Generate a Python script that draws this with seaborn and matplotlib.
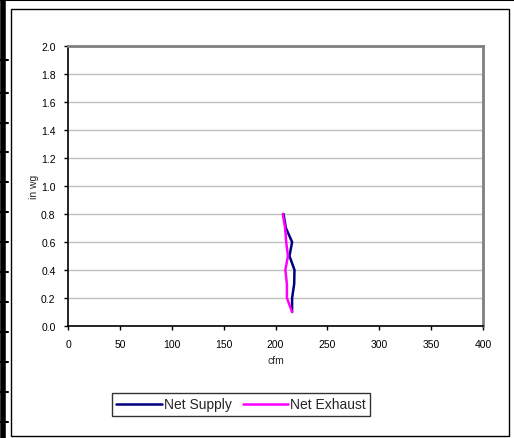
import pandas as pd
import matplotlib
matplotlib.use('Agg')
import matplotlib.pyplot as plt
import seaborn as sns
from matplotlib.lines import Line2D
from matplotlib.patches import Rectangle

# 数据
pressure = [0.8, 0.7, 0.6, 0.5, 0.4, 0.3, 0.2, 0.1]
supply_cfm = [207.7, 210.0, 216.0, 213.5, 218.3, 218.0, 216.0, 216.0]
exhaust_cfm = [207.0, 209.3, 210.3, 212.0, 209.5, 211.0, 211.0, 216.0]
series_names = ['Net Supply', 'Net Exhaust']
series_colors = ['#000080', '#ff00ff']
x_ticks = [0, 50, 100, 150, 200, 250, 300, 350, 400]
y_ticks = [0.0, 0.2, 0.4, 0.6, 0.8, 1.0, 1.2, 1.4, 1.6, 1.8, 2.0]

sns.set_theme(style='white')
plt.rcParams['font.family'] = ['Liberation Sans', 'DejaVu Sans']

df = pd.concat([
    pd.DataFrame({'cfm': supply_cfm, 'in wg': pressure, 'series': series_names[0]}),
    pd.DataFrame({'cfm': exhaust_cfm, 'in wg': pressure, 'series': series_names[1]}),
], ignore_index=True)

fig = plt.figure(figsize=(5.14, 4.39), dpi=100)
ax = fig.add_axes([68 / 514, 1 - 327 / 439, 415 / 514, 280 / 439])

sns.lineplot(data=df, x='cfm', y='in wg', hue='series', palette=series_colors,
             sort=False, estimator=None, linewidth=1.8, ax=ax, legend=False)
for line in ax.lines:
    line.set_solid_joinstyle('round')

ax.set_xlim(0, 400)
ax.set_ylim(0, 2.0)
ax.set_xticks(x_ticks)
ax.set_yticks(y_ticks)
ax.set_xticklabels([str(v) for v in x_ticks])
ax.set_yticklabels([f'{v:.1f}' for v in y_ticks])
ax.tick_params(axis='both', labelsize=7.5, colors='black', length=3, width=1,
               direction='out', left=True, bottom=True, pad=6)
ax.yaxis.grid(True, color='#c0c0c0', linewidth=1)
ax.set_axisbelow(True)
for side in ['left', 'bottom']:
    ax.spines[side].set_color('black')
    ax.spines[side].set_linewidth(1.2)
for side in ['top', 'right']:
    ax.spines[side].set_color('#808080')
    ax.spines[side].set_linewidth(2)
ax.set_xlabel('cfm', fontsize=7.5)
ax.set_ylabel('in wg', fontsize=7.5)
ax.xaxis.set_label_coords(0.5, -0.104)
ax.yaxis.set_label_coords(-0.07, 0.5)

handles = [Line2D([], [], color=c, linewidth=1.8) for c in series_colors]
leg = fig.legend(handles, series_names, ncol=2, loc='center',
                 bbox_to_anchor=(241 / 514, 1 - 405.5 / 439),
                 fontsize=10, frameon=True, fancybox=False, handlelength=3.3,
                 handletextpad=0.1, columnspacing=0.8, borderpad=0.35)
leg.get_frame().set_edgecolor('black')
leg.get_frame().set_linewidth(1)

# 外框
fig.patches.append(Rectangle((11 / 514, 2 / 439), 498 / 514, 427 / 439,
                             transform=fig.transFigure, fill=False,
                             edgecolor='black', linewidth=1))
fig.lines.append(Line2D([0, 1], [1 - 0.5 / 439, 1 - 0.5 / 439],
                        transform=fig.transFigure, color='black', linewidth=1.5))
fig.lines.append(Line2D([3 / 514, 3 / 514], [0, 1],
                        transform=fig.transFigure, color='black', linewidth=4))
for yp in [61, 94, 124, 153, 183, 213, 243, 273, 303, 333, 363, 393, 423]:
    fig.lines.append(Line2D([0, 8 / 514], [1 - yp / 439, 1 - yp / 439],
                            transform=fig.transFigure, color='black', linewidth=1.5))

fig.savefig('out.png', dpi=100)
